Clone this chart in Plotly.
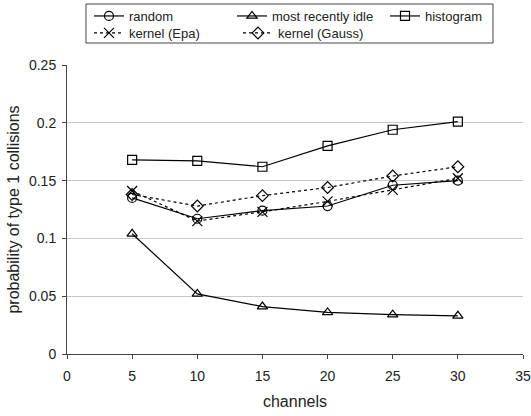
import plotly.graph_objects as go

channels = [5, 10, 15, 20, 25, 30]
random_vals = [0.135, 0.117, 0.124, 0.128, 0.146, 0.150]
mri_vals = [0.104, 0.052, 0.041, 0.036, 0.034, 0.033]
hist_vals = [0.168, 0.167, 0.162, 0.180, 0.194, 0.201]
epa_vals = [0.141, 0.115, 0.123, 0.132, 0.142, 0.152]
gauss_vals = [0.138, 0.128, 0.137, 0.144, 0.154, 0.162]

x_ticks = [0, 5, 10, 15, 20, 25, 30, 35]
y_ticks = [0, 0.05, 0.1, 0.15, 0.2, 0.25]
y_tick_labels = ["0", "0.05", "0.1", "0.15", "0.2", "0.25"]

series = [
    ("random", random_vals, "circle-open", "solid", "legend"),
    ("most recently idle", mri_vals, "triangle-up-open", "solid", "legend2"),
    ("histogram", hist_vals, "square-open", "solid", "legend3"),
    ("kernel (Epa)", epa_vals, "x-thin-open", "dot", "legend4"),
    ("kernel (Gauss)", gauss_vals, "diamond-open", "dot", "legend5"),
]

fig = go.Figure()
for name, vals, sym, dash, lg in series:
    fig.add_trace(go.Scatter(
        x=channels, y=vals, name=name, mode="lines+markers", legend=lg,
        line=dict(color="black", width=1.2, dash=dash),
        marker=dict(symbol=sym, size=9 if sym != "x-thin-open" else 10,
                    color="black", line=dict(color="black", width=1.2)),
    ))

W = 456.0
H = 289.0
def px(xp):
    return (xp - 67) / W
def py(yp):
    return (354 - yp) / H

leg_common = dict(orientation="v", yanchor="middle", xanchor="left",
                  bgcolor="rgba(0,0,0,0)", borderwidth=0,
                  font=dict(size=13, color="#222"), tracegroupgap=0,
                  itemwidth=30)
fig.update_layout(
    width=531, height=416,
    margin=dict(l=67, r=8, t=65, b=62, autoexpand=False),
    plot_bgcolor="white", paper_bgcolor="white",
    font=dict(family="Liberation Sans, Arial, sans-serif", size=13.5, color="#222"),
    legend=dict(x=px(89), y=py(16), **leg_common),
    legend2=dict(x=px(232), y=py(16), **leg_common),
    legend3=dict(x=px(385), y=py(16), **leg_common),
    legend4=dict(x=px(89), y=py(33), **leg_common),
    legend5=dict(x=px(238), y=py(33), **leg_common),
    showlegend=True,
)
fig.add_shape(type="rect", xref="paper", yref="paper",
              x0=px(86), x1=px(493), y0=py(43), y1=py(4),
              line=dict(color="#444", width=1), fillcolor="rgba(0,0,0,0)")
fig.update_xaxes(
    range=[0, 35], tickvals=x_ticks, ticktext=[str(t) for t in x_ticks],
    showgrid=False, showline=True, linecolor="#444", linewidth=1,
    ticks="outside", ticklen=4, tickcolor="#444", zeroline=False,
    tickfont=dict(size=14), ticklabelstandoff=5,
    title=dict(text="channels", standoff=13),
)
fig.update_yaxes(
    range=[0, 0.25], tickvals=y_ticks, ticktext=y_tick_labels,
    showgrid=True, gridcolor="#c8c8c8", gridwidth=1,
    showline=True, linecolor="#444", linewidth=1,
    ticks="outside", ticklen=4, tickcolor="#444", zeroline=False,
    tickfont=dict(size=14), ticklabelstandoff=3,
    title=dict(text="probability of type 1 collisions", standoff=5),
)

fig.write_html("out.html")
